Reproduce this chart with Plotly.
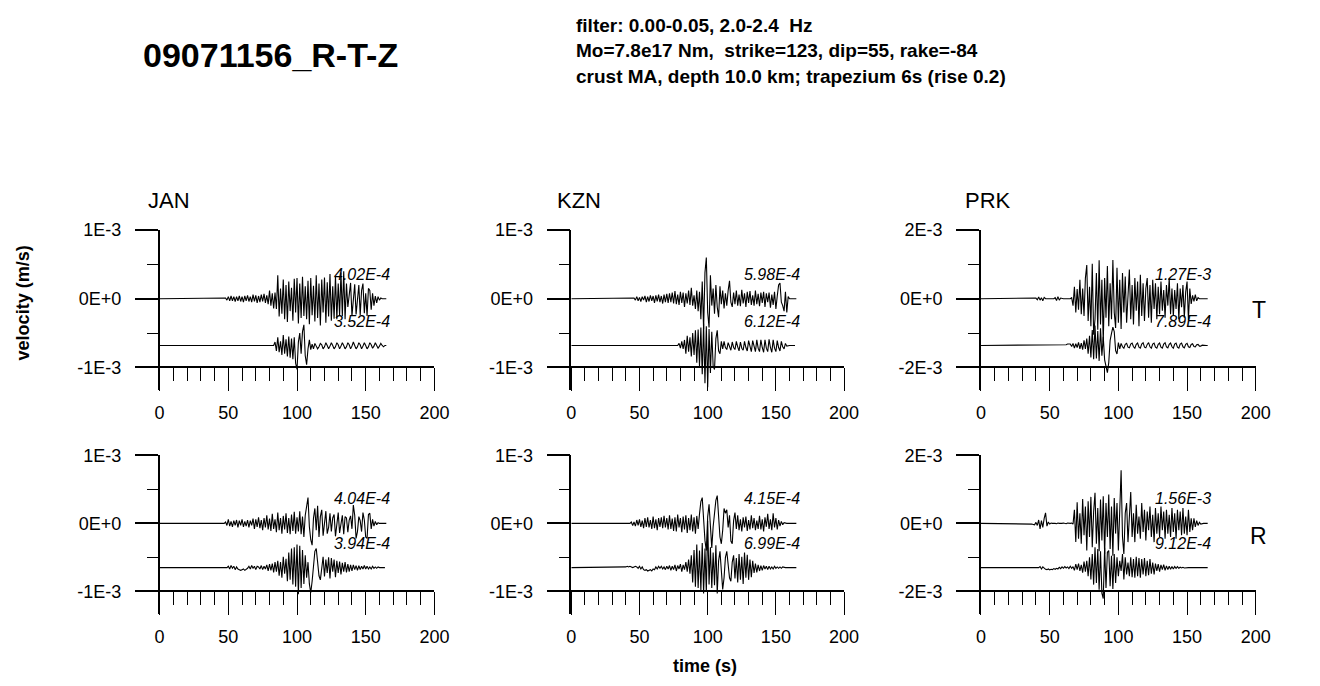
import numpy as np
import plotly.graph_objects as go

# ---------------- data (velocity in units of 1E-4 m/s, 1 s sampling) ----------------
AMP_UNIT = 1e-4
stations = ["JAN", "KZN", "PRK"]
components = ["T", "R"]
axis_max = [1e-3, 1e-3, 2e-3]           # y-axis half-range per station
y_tick_text = [["-1E-3", "0E+0", "1E-3"], ["-1E-3", "0E+0", "1E-3"], ["-2E-3", "0E+0", "2E-3"]]
x_tick_vals = [0, 50, 100, 150, 200]

# peak-amplitude labels (upper, lower) per component/station
peak_labels = {
    ("T", "JAN"): ("4.02E-4", "3.52E-4"), ("T", "KZN"): ("5.98E-4", "6.12E-4"), ("T", "PRK"): ("1.27E-3", "7.89E-4"),
    ("R", "JAN"): ("4.04E-4", "3.94E-4"), ("R", "KZN"): ("4.15E-4", "6.99E-4"), ("R", "PRK"): ("1.56E-3", "9.12E-4"),
}

# onset time (s) of each trace
onset = {
    ("T", "JAN", 0): 48, ("T", "JAN", 1): 84,
    ("T", "KZN", 0): 46, ("T", "KZN", 1): 79,
    ("T", "PRK", 0): 40, ("T", "PRK", 1): 62,
    ("R", "JAN", 0): 48, ("R", "JAN", 1): 50,
    ("R", "KZN", 0): 44, ("R", "KZN", 1): 40,
    ("R", "PRK", 0): 37, ("R", "PRK", 1): 43,
}

jan_t_upper = [0.1, -0.2, 0.3, -0.3, 0.4, -0.3, 0.3, -0.4, 0.3, -0.3, 0.4, -0.4, 0.3,
               -0.5, 0.4, -0.3, 0.5, -0.4, 0.3, -0.5, 0.6, -0.4, 0.5, -0.6, 0.4, -0.5, 0.6, -0.4,
               0.7, -0.6, 0.5, -0.8, 1.2, -1.0, 0.8, -1.4, 0.9,
               -1.5, 3.4, -2.6, 1.5, -2.2, 2.8, -3.0, 2.0, -3.4, 2.5, -1.8, 1.6, -3.2, 2.9, -2.0, 3.0,
               -3.6, 2.2, -2.8, 3.2, -2.5, 1.8, -3.0, 2.6, -3.7, 3.0, -2.4, 1.9, -3.3, 3.4, -2.8,
               2.2, -3.9, 2.8, -2.0, 3.1, -3.5, 2.4, -2.6, 3.6, -3.2, 1.8, -2.9, 3.3, -3.0, 2.2, -2.4, 3.8, -2.5, 4.0, -3.0,
               2.2, -1.2, 0.5, 2.3, -2.5, 0.3, 2.1, -2.3, 0.2, 2.0, -2.4, 1.2, 2.2, -2.1, 0.8,
               -2.5, 1.5, 1.2, -1.6, 0.8, -1.0, 0.4, -0.6, 0.3, -0.2, 0.1, 0.0, 0.0, 0.0, 0.0]
jan_t_lower = [0.5, -0.8, 1.2, -1.0, 0.6, -1.4, 1.5, -1.2, 0.9, -1.6, 1.3, -1.8, 1.0, -2.0, 1.2, -2.6, -3.5,
               0.5, 1.8, -1.2, 2.0, 3.0, -1.5, -2.8, -0.5, 0.8, -0.6, 0.2, -0.5,
               0.3, -0.1, -0.5, -0.2, 0.3, 0.1, -0.5, -0.2, 0.4, 0.0, -0.5, -0.1, 0.4, 0.0, -0.5, -0.2,
               0.4, 0.1, -0.5, -0.1, 0.4, 0.0, -0.5, -0.2, 0.4, 0.1, -0.5, -0.1, 0.5, 0.0, -0.5, -0.2,
               0.4, 0.1, -0.5, -0.1, 0.4, 0.0, -0.5, -0.2, 0.4, 0.1, -0.4, -0.1, 0.4, 0.0, -0.4, -0.1,
               0.3, 0.0, -0.2, 0.0, 0.0]
kzn_t_upper = [0.1, -0.2, 0.3, -0.3, 0.2, -0.4, 0.3, -0.2, 0.4, -0.5, 0.3, -0.4, 0.5, -0.3, 0.4, -0.6, 0.5,
               -0.4, 0.6, -0.5, 0.4, -0.7, 0.6, -0.5, 0.7,
               -0.6, 0.8, -0.5, 0.9, -0.7, 1.1, -0.8, 0.6, -0.9, 1.0, -0.6, 0.9, -1.2, 0.8, -0.7, 1.2,
               -0.9, 1.6, -1.0, 0.5, -1.5, 1.2, -1.8, 1.0,
               -3.0, 2.5, -4.4, 3.8, 6.0, -2.0, -4.2, 3.4, -1.0, 1.5, -2.2, 2.0, -1.2, -2.7, 1.8, -0.8, 1.2, -1.4,
               0.8, -1.0, 1.2, 2.6, -0.5, -1.2, 0.9, -0.8, 1.2, -1.0, 0.6, -1.1, 1.3, -0.7, 0.8, -1.2, 1.0,
               -0.6, 1.1, -0.9, 0.5, -1.0, 1.2, -0.8, 0.7, -1.1, 0.9, -0.6, 1.0, -1.2, 0.8, -0.5, 0.9,
               -1.3, 0.6, -0.9, 1.0, -1.5, 0.4, 2.0, 2.3, -0.5, -1.0, -1.8, 1.0, -2.0, 0.3, 0.0, 0.0, 0.0, 0.0, 0.0, 0.0]
kzn_t_lower = [0.3, -0.4, 0.6, -0.5, 0.8, -1.2, 1.4, -0.9, 1.2, -1.6, 1.8, -1.4, 2.2, -2.5, 2.3,
               -3.0, 2.6, -4.2, 3.2, -5.5, 2.8, -6.1, 2.4, -4.0, 2.0, -3.0, -3.5, 1.0, 2.2, -0.8, -1.2, 0.6,
               -0.5, 0.6, -0.3, -0.6, 0.4, -0.2, -0.7, 0.5, -0.3, -0.6, 0.6, -0.2, -0.8, 0.5, -0.4, -0.7,
               0.6, -0.3, -0.8, 0.7, -0.4, -0.9, 0.7, -0.3, -0.9, 0.8, -0.4, -0.9, 0.8, -0.3, -1.0, 0.8,
               -0.4, -0.9, 0.9, -0.3, -1.0, 0.8, -0.4, -0.9, 0.7, -0.3, -0.8, 0.6, -0.2, -0.5, 0.3, -0.1,
               0.0, 0.0, 0.0, 0.0, 0.0, 0.0]
prk_t_upper = [0.2, -0.3, 0.5, -0.4, 0.3, -0.6, 0.4, 0.0, 0.0, 0.0, 0.0, 0.0, 0.0, 0.0, 0.3, -0.5, 0.6, -0.4,
               0.2, 0.0, 0.0, 0.0, 0.0, 0.0, 0.0, 0.0, 0.3,
               -2.0, 3.5, -4.0, 2.8, -3.2, 5.5, -4.5, 3.0, -5.0, 6.0, 9.8, -6.5, 3.5, -8.0, 10.2, -10.5, -6.0,
               7.5, -9.0, 11.2, -7.5, 5.5, -12.7, 6.0, -5.5, 9.5, -8.0, 4.5, -6.0, 11.3, -4.0, -8.5, 9.0, -7.0,
               5.5, -8.8, 7.5, -4.0, 6.5, -7.0, 3.5, 8.5, -6.0, 4.0, -7.5, 6.0, -3.5, 5.0, -8.0, 7.0, -5.0,
               4.5, -6.5, 3.0, 6.0, -5.5, 4.0, -7.0, 5.5, -3.0, 4.5, -6.0, 3.5, -4.5,
               5.0, -3.5, 2.5, -5.5, 4.0, -2.0, 6.0, -4.5, 3.0, -5.0, 2.5, -3.0, 4.5, -6.0, 3.0, -2.5, 4.0,
               -5.5, 2.0, 5.0, -6.2, 3.0, -1.5, 1.0, -0.8, 1.2, -0.6, 0.3, 0.0, 0.0, 0.0, 0.0, 0.0, 0.0, 0.0]
prk_t_lower = [0.2, 0.4, 0.5, 0.4, -0.3, 0.6, -0.8, 0.5, -0.6, 0.9, -1.0, 0.7, -1.2, 1.5, -1.0, 2.0, -2.4, 2.8,
               -3.5, 4.5, -4.0, 5.8, -3.8, 4.2, -4.5, 5.0, -3.0, 2.5, -4.2, -6.5, -7.9, -5.0, 1.5, 3.5, 5.3,
               4.0, -1.5, -2.5, 0.8, -1.0,
               0.6, -0.4, -0.8, 0.3, 0.6, -0.5, -0.7, 0.4, 0.7, -0.4, -0.8, 0.3, 0.7, -0.5, -0.8, 0.4, 0.8,
               -0.5, -0.7, 0.3, 0.8, -0.4, -0.8, 0.4, 0.7, -0.5, -0.8, 0.3, 0.7, -0.5, -0.8, 0.4, 0.8, -0.4,
               -0.7, 0.3, 0.7, -0.4, -0.8, 0.4, 0.7, -0.5, -0.8, 0.4, 0.7, -0.4, -0.7, 0.3, 0.6, -0.4, -0.6,
               0.3, 0.5, -0.3, -0.4, 0.2, 0.3, -0.2, -0.2, 0.1, 0.0, 0.0, 0.0, 0.0]
jan_r_upper = [0.2, -0.3, 0.6, -0.4, 0.3, -0.5, 0.4, -0.3, 0.5, -0.6, 0.4, -0.3, 0.6, -0.5, 0.3, -0.4, 0.5,
               -0.6, 0.4, -0.3,
               0.7, -0.8, 0.6, -0.5, 0.9, -0.7, 0.5, -1.0, 0.8, -0.6, 1.2, -0.9, 0.7, -1.1, 1.4, -0.8, 0.6,
               -1.3, 1.6, -1.0, 0.8, -1.5, 1.1,
               -0.9, 1.5, -1.4, 0.8, -1.6, 1.3, -1.1, 1.7, -1.5, 0.9, -1.2, 1.8, -1.6, 1.0, -2.0, 1.2, 2.4,
               3.8, -0.5, -2.4, -3.2, 0.8, 2.2, -1.0, 2.6,
               -2.0, 1.0, 2.0, -1.8, 0.6, 1.8, -1.5, -0.6, 1.5, -1.2, 0.8, 1.3, -1.9, 0.4, 1.6, -1.4, -0.2,
               1.2, -1.6, 1.0, 0.8, -1.3, 0.5, 1.1, -0.8,
               2.7, 1.2, -2.2, -1.2, 1.0, 0.4, -1.2, 1.6, 0.5, -2.0, -2.2, 1.3, 1.5, -0.8, 0.6, -0.4, 0.3,
               -0.2, 0.1, 0.0, 0.0, 0.0, 0.0, 0.0, 0.0]
jan_r_lower = [0.2, -0.2, 0.3, -0.1, 0.2, -0.3, 0.1, -0.2, -0.3, -0.4, -0.3, -0.2, -0.4, -0.3, -0.1, 0.2,
               -0.2, 0.3, -0.1, 0.2, -0.3, 0.2, 0.1, -0.2, 0.3, -0.3, 0.2, -0.2, 0.4, -0.5, 0.5, -0.4, 0.6,
               -0.7, 0.8, -0.6,
               1.0, -1.2, 0.8, -1.5, 1.6, -0.9, 1.3, -2.0, 2.2, -1.8, 2.8, -2.5, 3.0, -2.8, 3.4, -3.9, 3.2,
               -3.0, 2.6, -2.4, 1.8, -1.5, 0.8, -2.4, -3.7,
               -2.0, 1.0, 2.4, 2.8, 1.0, -1.2, -1.8, 0.4, 1.6, -1.3, 1.2, -0.8, 1.5, -1.6, 1.4, -0.6, 1.2,
               -1.4, 1.0, -0.8, 0.9, -1.0, 0.7, -0.6, 0.8, -0.7, 0.5, -0.6, 0.4, -0.5,
               0.4, -0.3, 0.3, -0.4, 0.3, -0.3, 0.2, -0.2, 0.3, -0.2, 0.2, -0.2, 0.1, -0.2, 0.2, -0.1, 0.1,
               -0.1, 0.1, 0.0, 0.0, 0.0, 0.0, 0.0]
kzn_r_upper = [0.2, -0.3, 0.2, -0.4, 0.5, -0.3, 0.6, -0.5, 0.4, -0.7, 0.8, -0.5, 0.9, -0.6, 0.5, -0.8, 1.0,
               -0.7, 0.6, -1.0, 0.8, -0.5, 0.9, -0.7, 1.1, -0.6, 0.8,
               -0.9, 1.2, -0.8, 0.7, -1.1, 0.9, -1.2, 1.3, -0.6, 0.8, -1.3, 1.0, -0.9, 1.2, -1.4, 0.8, -1.0,
               1.3, -1.2, 0.9, -1.5, 1.1, -0.8, 1.4,
               3.2, 3.8, 0.5, -2.5, -4.0, 1.0, 2.8, -1.5, -3.6, -0.5, 2.0, 3.4, 4.1, 1.2, -2.0, -3.0, -1.0,
               2.2, 1.5, 2.0, -0.6, 1.2, -2.6, -3.0, 0.4, 1.6, -0.8, 1.2, -1.0, 0.6, -1.2, 0.9,
               -0.6, 1.0, -1.1, 0.5, -0.9, 1.2, -0.7, 0.8, -1.0, 0.4, -0.8, 1.1, -0.9, 0.6, -1.2, 0.9, -0.5,
               1.4, -0.8, 0.6, -1.0, 1.5, -0.6, 0.8, -0.9, 0.5, -0.4, 0.3, -0.2, 0.1, 0.0, 0.0, 0.0, 0.0,
               0.0, 0.0, 0.0, 0.0, 0.0]
kzn_r_lower = [0.1, 0.2, 0.1, 0.2, 0.1, 0.0, 0.1, 0.2, 0.1, -0.1, 0.2, -0.2, 0.1, -0.3, -0.4, -0.3, -0.5,
               -0.4, -0.3, -0.5, -0.2, -0.3, 0.1, -0.2, 0.2, -0.1, 0.2, -0.2, 0.1, -0.3, 0.2,
               -0.2, 0.3, -0.4, 0.2, -0.3, 0.4, -0.5, 0.3, -0.2, 0.5, -0.6, 0.4, -0.3, 0.8, -0.6, 1.2, -0.9,
               1.8, -2.2, 2.6, -2.8, 3.4, -3.0, 2.5, -3.4, 3.6, -3.8, 2.8, -3.6, 6.9, -2.5, 3.0, -3.0, 2.2,
               -2.6, 3.3, -3.8, 1.0, 2.4, -1.0, -3.2, -1.5,
               1.5, 2.4, 0.5, -1.5, -2.0, 0.8, 1.8, -1.6, 1.4, -2.2, 2.0, -1.8, 1.6, -2.4, 2.2, -1.5, 1.9,
               -1.8, 1.2, -1.4, 1.0, -0.8, 0.6, -0.7, 0.4, -0.5, 0.3, -0.4, 0.3, -0.2, 0.2, -0.3, 0.2, -0.2,
               0.1, -0.2, 0.2, -0.1, 0.1, -0.1, 0.1, -0.1, 0.1, 0.0, 0.0, 0.0, 0.0, 0.0, 0.0, 0.0, 0.0, 0.0, 0.0]
prk_r_upper = [-0.2, -0.3, -0.4, 0.3, -0.6, 1.0, -1.6, 0.8, -1.2, 1.5, 3.1, -0.8, 0.4, -0.2, 0.1, 0.0, 0.1,
               0.0, -0.1, 0.1, 0.0, -0.1, 0.0, 0.1, 0.0, -0.1, 0.1, 0.0, 0.0, 0.1, -0.2,
               4.0, -5.5, 6.2, -4.5, 3.0, -6.0, 7.2, -3.5, 5.0, -8.0, 6.5, -4.0, 7.8, -7.0, 3.5, 9.0, -6.0,
               4.5, -8.2,
               7.0, -5.0, 8.0, -9.0, 6.0, -4.0, 8.5, -7.5, 5.0, -9.5, 7.5, -3.0, 6.0, -8.0, 4.0, 15.6, -4.0,
               -9.0, 3.0, 6.0, -5.5, 2.0, 9.2, -4.0,
               3.0, -5.5, 5.5, -3.0, 2.0, -4.5, 6.0, -2.5, 4.0, -5.0, 3.5, -2.0, 5.0, -4.0, 2.5, -5.5, 4.5,
               -3.0, 3.0, -4.0, 5.0, -2.0, 3.5, -4.5, 4.0, -3.0, 2.5, -4.0, 4.5, -2.5, 3.0, -4.5, 4.0, -2.0,
               3.5, -3.5, 4.5, -3.0, 2.0, -3.5, 4.0, -2.5, 1.5, -2.0, 1.5, -1.0, 0.8, -0.6, 0.3, -0.2, 0.0,
               0.0, 0.0, 0.0, 0.0]
prk_r_lower = [0.3, -0.4, 0.2, -0.3, -0.5, -0.6, -0.4, -0.7, -0.5, -0.6, -0.3, -0.5, -0.2, -0.4, 0.1, -0.3,
               0.2, -0.2, 0.3, -0.1, 0.2, -0.3, 0.4, -0.2, 0.3,
               -0.8, 1.0, -0.6, 1.2, -1.0, 0.8, -1.5, 1.8, -1.2, 2.0, -2.5, 3.0, -3.5,
               4.0, -5.0, 6.0, -4.5, 5.5, -6.5, 4.8, -7.5, -9.1, 5.8, -6.0, 4.5, 5.0, -5.5, 3.5, -6.3, 4.0,
               -4.5, 3.0, -2.5, 2.0, -1.0, 4.0, -3.5, 3.0, -2.0,
               1.5, -2.5, 3.0, -2.8, 2.5, -3.0, 3.2, -2.5, 2.8, -3.0, 2.5, -2.0, 2.8, -2.5, 2.0, -2.2, 2.5,
               -1.8, 1.5, -2.0, 1.2, -1.0, 1.0, -1.2, 0.8, -0.6, 0.9, -0.8, 0.5, -0.6, 0.4, -0.5, 0.3, -0.4,
               0.3, -0.2, 0.3, -0.2, 0.1, -0.1, 0.1, -0.1, 0.0, 0.0, 0.0, 0.0, 0.0, 0.0, 0.0, 0.0, 0.0, 0.0,
               0.0, 0.0, 0.0, 0.0, 0.0, 0.0, 0.0]

traces = {
    ("T", "JAN"): (jan_t_upper, jan_t_lower), ("T", "KZN"): (kzn_t_upper, kzn_t_lower),
    ("T", "PRK"): (prk_t_upper, prk_t_lower),
    ("R", "JAN"): (jan_r_upper, jan_r_lower), ("R", "KZN"): (kzn_r_upper, kzn_r_lower),
    ("R", "PRK"): (prk_r_upper, prk_r_lower),
}
# vertical offset of the lower trace, as fraction of the axis half-range
lower_offset = {"T": -0.68, "R": -0.65}

# ---------------- layout geometry (pixels) ----------------
W, H = 1320, 686
col_px = [(157, 436), (575, 852), (991, 1270)]
row_px = {"T": (223.3, 362.7), "R": (452.0, 590.0)}   # pixel of +max and -max
EXT = 1.33          # y range extends below -max so traces may cross the time axis

def px_x(x):
    return x / W

def px_y(y):
    return 1 - y / H

fig = go.Figure()
font_main = "Liberation Sans, Arial, sans-serif"
layout_axes = {}
n = 0
for comp in components:
    for j, st in enumerate(stations):
        n += 1
        xa = "x" if n == 1 else f"x{n}"
        ya = "y" if n == 1 else f"y{n}"
        xname = "xaxis" if n == 1 else f"xaxis{n}"
        yname = "yaxis" if n == 1 else f"yaxis{n}"
        amax = axis_max[j]
        up, lo = traces[(comp, st)]
        for k, vals in enumerate((up, lo)):
            t0 = onset[(comp, st, k)]
            t = np.concatenate(([0.0, t0 - 1.0], t0 + np.arange(len(vals), dtype=float)))
            v = np.concatenate(([0.0, 0.0], np.array(vals) * AMP_UNIT))
            if k == 1:
                v = v + lower_offset[comp] * amax
            fig.add_trace(go.Scatter(x=t, y=v, mode="lines", xaxis=xa, yaxis=ya,
                                     line=dict(color="black", width=1.1), showlegend=False,
                                     hoverinfo="skip"))
        # peak labels
        lab_up, lab_lo = peak_labels[(comp, st)]
        yy = (0.35, -0.33) if comp == "T" else (0.37, -0.30)
        for lab, yv in zip((lab_up, lab_lo), yy):
            fig.add_annotation(x=169, y=yv * amax, xref=xa, yref=ya, text="<i>" + lab + "</i>",
                               showarrow=False, xanchor="right", yanchor="middle",
                               font=dict(family=font_main, size=16, color="black"))
        x0, x1 = col_px[j]
        ytop, ybot = row_px[comp]
        ybot_ext = ytop + (ybot - ytop) * (1 + EXT) / 2
        layout_axes[xname] = dict(
            domain=[px_x(x0), px_x(x1)], range=[0, 200], anchor="free", position=px_y(ybot),
            showline=True, linecolor="black", linewidth=1.5, showgrid=False, zeroline=False,
            tickmode="array", tickvals=x_tick_vals, ticks="outside", ticklen=23, tickwidth=1,
            tickcolor="black",
            minor=dict(tickmode="linear", tick0=0, dtick=10, ticks="outside", ticklen=13,
                       tickwidth=1, tickcolor="black", showgrid=False),
            tickfont=dict(family=font_main, size=18, color="black"), ticklabelstandoff=6,
        )
        layout_axes[yname] = dict(
            domain=[px_y(ybot_ext), px_y(ytop)], range=[-amax * EXT, amax], anchor=xa,
            showline=True, linecolor="black", linewidth=1.5, showgrid=False, zeroline=False,
            tickmode="array", tickvals=[-amax, 0, amax], ticktext=y_tick_text[j],
            ticks="outside", ticklen=23, tickwidth=1.5, tickcolor="black",
            minor=dict(tickmode="array", tickvals=[-amax / 2, amax / 2], ticks="outside", ticklen=11,
                       tickwidth=1, tickcolor="black", showgrid=False),
            tickfont=dict(family=font_main, size=18, color="black"), ticklabelstandoff=10,
        )

fig.update_layout(**layout_axes)

# station names
for j, st in enumerate(stations):
    fig.add_annotation(x=px_x([143, 558, 973][j]), y=px_y(193), xref="paper", yref="paper",
                       text=st, showarrow=False, xanchor="left", yanchor="middle",
                       font=dict(family=font_main, size=22, color="black"))
# component letters
for comp, yc in (("T", 304), ("R", 534)):
    fig.add_annotation(x=px_x(1273), y=px_y(yc), xref="paper", yref="paper", text=comp,
                       showarrow=False, xanchor="center", yanchor="middle",
                       font=dict(family=font_main, size=23, color="black"))

# axis titles
fig.add_annotation(x=px_x(18), y=px_y(297), xref="paper", yref="paper",
                   text="<b>velocity (m/s)</b>", showarrow=False, textangle=-90,
                   xanchor="center", yanchor="middle",
                   font=dict(family=font_main, size=18, color="black"))
fig.add_annotation(x=px_x(711), y=px_y(666), xref="paper", yref="paper",
                   text="<b>time (s)</b>", showarrow=False, xanchor="center", yanchor="middle",
                   font=dict(family=font_main, size=18, color="black"))

# title and info block
fig.add_annotation(x=px_x(270), y=px_y(46), xref="paper", yref="paper",
                   text="<b>09071156_R-T-Z</b>", showarrow=False, xanchor="center", yanchor="middle",
                   font=dict(family=font_main, size=34, color="black"))
info_lines = ["filter: 0.00-0.05, 2.0-2.4  Hz",
              "Mo=7.8e17 Nm,  strike=123, dip=55, rake=-84",
              "crust MA, depth 10.0 km; trapezium 6s (rise 0.2)"]
for i, line in enumerate(info_lines):
    fig.add_annotation(x=px_x(578), y=px_y(16 + 25.5 * i), xref="paper", yref="paper",
                       text="<b>" + line.replace("  ", "&nbsp; ") + "</b>", showarrow=False,
                       xanchor="left", yanchor="middle",
                       font=dict(family=font_main, size=19, color="black"))

fig.update_layout(width=W, height=H, margin=dict(l=0, r=0, t=0, b=0),
                  paper_bgcolor="white", plot_bgcolor="white", showlegend=False)
fig.write_html("out.html")
